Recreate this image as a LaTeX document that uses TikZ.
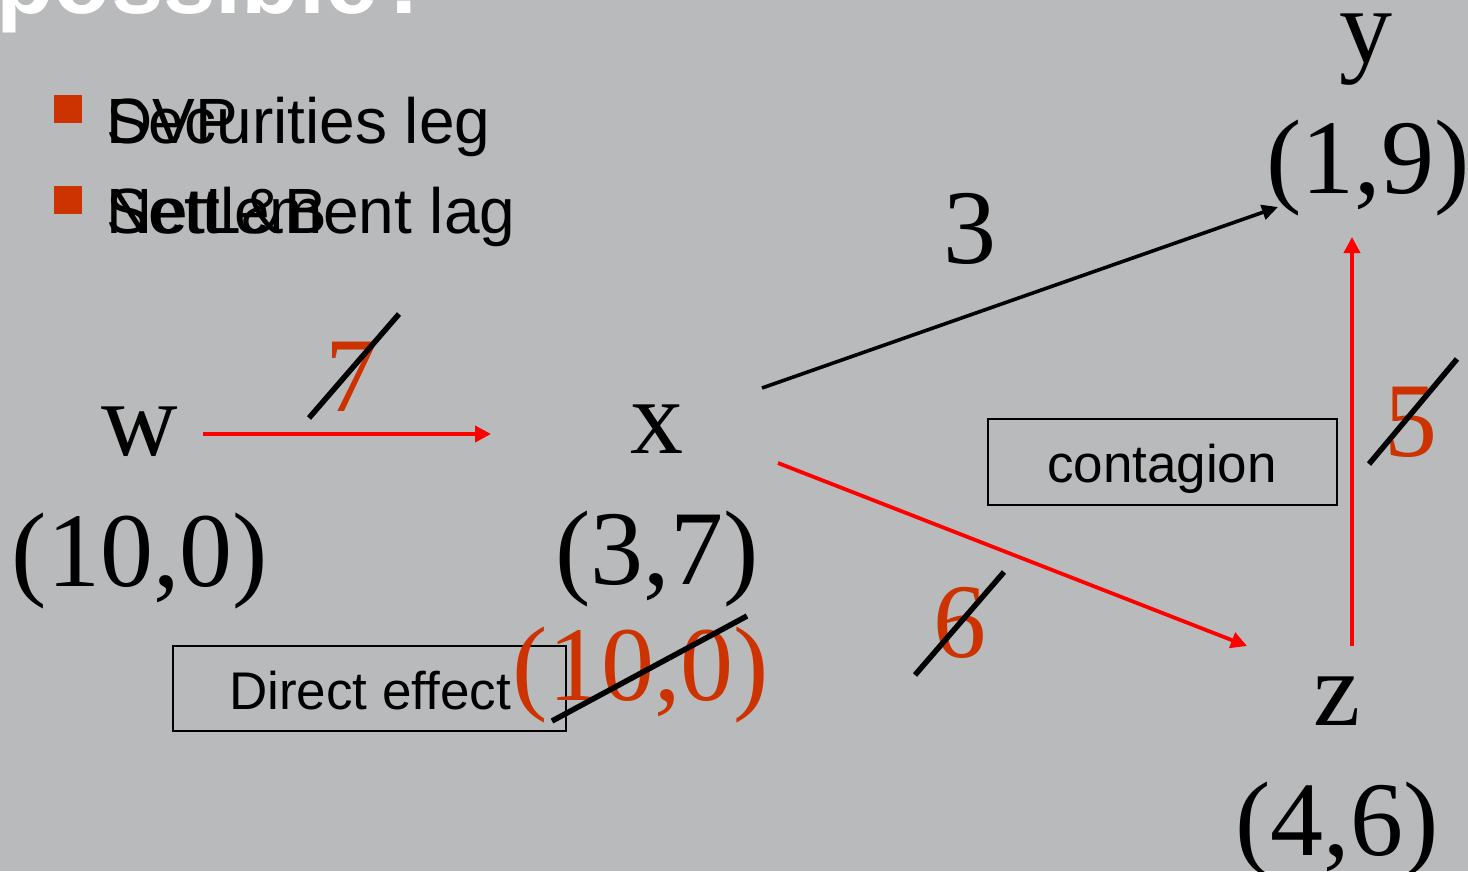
\documentclass[tikz,border=0pt]{standalone}
\usepackage{fontspec}
\setmainfont{Liberation Serif}
\newfontfamily\arial{Liberation Sans}
\usetikzlibrary{arrows.meta}
\definecolor{bg}{RGB}{185,186,188}
\definecolor{rust}{RGB}{204,51,0}
\begin{document}
\begin{tikzpicture}[x=1pt,y=-1pt,
  big/.style={inner sep=0pt,anchor=base,font=\fontsize{106}{110}\selectfont},
  bigred/.style={big,text=rust},
  sans/.style={inner sep=0pt,font=\arial\fontsize{53}{60}\selectfont},
  bullettext/.style={inner sep=0pt,anchor=base west,font=\arial\fontsize{64}{70}\selectfont},
  bulletsq/.style={fill=rust,inner sep=0pt,minimum size=28pt},
  framebox/.style={draw=black,line width=1.8pt,inner sep=0pt},
  redarrow/.style={draw=red,line width=3.8pt,-{Triangle[length=16pt,width=16pt]}},
  blackarrow/.style={draw=black,line width=3.6pt,-{Triangle[length=16pt,width=15pt]}},
  strike/.style={draw=black,line width=5.5pt}]
\fill[bg] (0,0) rectangle (1468,871);
\useasboundingbox (0,0) rectangle (1468,871);

% title fragment
\node[inner sep=0pt,anchor=base west,text=white,font=\arial\bfseries\fontsize{94}{100}\selectfont] (title) at (-4,13) {possible?};

% bullets
\node[bulletsq] (b1) at (68,108.5) {};
\node[bulletsq] (b2) at (68,199.5) {};
\node[bullettext] (t1a) at (106,143) {DVP};
\node[bullettext] (t1b) at (106,143) {Securities leg};
\node[bullettext] (t2a) at (106,233) {NetL\&B};
\node[bullettext] (t2b) at (106,233) {Settlement lag};

% nodes
\node[big] (w) at (140,455) {w};
\node[big] (w0) at (140,586) {(10,0)};
\node[big] (x) at (657,453) {x};
\node[big] (x0) at (657,584) {(3,7)};
\node[big] (y) at (1366,62) {y};
\node[big] (y0) at (1368,193) {(1,9)};
\node[big] (z) at (1337,725) {z};
\node[big] (z0) at (1337,855) {(4,6)};

% edge labels
\node[big] (l3) at (970,263) {3};
\node[bigred] (l7) at (352,411) {7};
\node[bigred] (l5) at (1411,456) {5};
\node[bigred] (l6) at (960,657) {6};

% boxes
\node[framebox,minimum width=393pt,minimum height=85pt] (dbox) at (369.5,688.5) {};
\node[sans,anchor=base] (dtext) at (370,709) {Direct effect};
\node[framebox,minimum width=349pt,minimum height=86pt] (cbox) at (1162.5,462) {};
\node[sans,anchor=base] (ctext) at (1162,482) {contagion};

\node[bigred] (x1) at (641,700) {(10,0)};

% connector end points
\coordinate (wx1) at (203,434);
\coordinate (wx2) at (491,434);
\coordinate (xy1) at (762,388);
\coordinate (xy2) at (1278,207);
\coordinate (xz1) at (778,463);
\coordinate (xz2) at (1247,646);
\coordinate (zy1) at (1352,646);
\coordinate (zy2) at (1352,237);

\draw[redarrow] (wx1) -- (wx2);
\draw[blackarrow] (xy1) -- (xy2);
\draw[redarrow] (xz1) -- (xz2);
\draw[redarrow] (zy1) -- (zy2);

% strike-through lines
\coordinate (s7a) at (309,418);  \coordinate (s7b) at (399,314);
\coordinate (s5a) at (1369,464); \coordinate (s5b) at (1457,359);
\coordinate (s6a) at (915,675);  \coordinate (s6b) at (1004,572);
\coordinate (sxa) at (552,721);  \coordinate (sxb) at (747,616);
\draw[strike] (s7a) -- (s7b);
\draw[strike] (s5a) -- (s5b);
\draw[strike] (s6a) -- (s6b);
\draw[strike] (sxa) -- (sxb);
\end{tikzpicture}
\end{document}
